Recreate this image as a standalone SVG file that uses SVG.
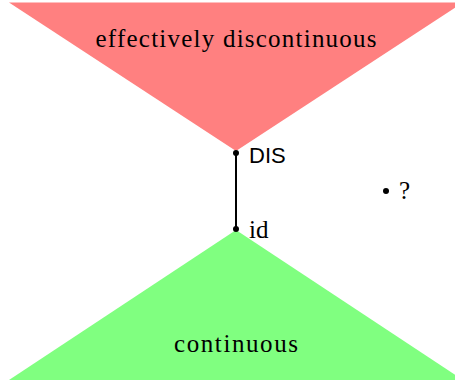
<svg xmlns="http://www.w3.org/2000/svg" width="455" height="383" viewBox="0 0 455 383">
<style>
.serif{font-family:"Liberation Serif","DejaVu Serif",serif;font-size:25px;fill:#000}
.sans{font-family:"Liberation Sans","DejaVu Sans",sans-serif;font-size:22px;fill:#000}
.dot{fill:#000}
</style>
<rect width="455" height="383" fill="#fff"/>
<g id="dis-region">
<polygon points="9,2.5 463,2.5 236,151" fill="#ff8080"/>
<text class="serif" x="236" y="47" text-anchor="middle" textLength="281">effectively discontinuous</text>
</g>
<g id="cont-region">
<polygon points="236,230 463,380 9,380" fill="#80ff80"/>
<text class="serif" x="236" y="352" text-anchor="middle" textLength="124">continuous</text>
</g>
<g id="connectors">
<line x1="236" y1="153" x2="236" y2="229" stroke="#000" stroke-width="2"/>
</g>
<g id="node-DIS">
<circle class="dot" cx="236" cy="153" r="3"/>
<text class="sans" x="249" y="163">DIS</text>
</g>
<g id="node-id">
<circle class="dot" cx="236" cy="229" r="3"/>
<text class="serif" x="249" y="238">id</text>
</g>
<g id="node-q">
<circle class="dot" cx="386" cy="191" r="3"/>
<text class="serif" x="399" y="199">?</text>
</g>
</svg>
